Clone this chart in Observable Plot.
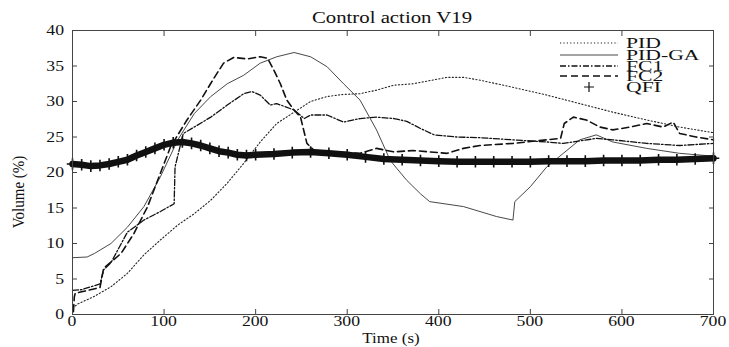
<!DOCTYPE html>
<html><head><meta charset="utf-8">
<script src="https://cdn.jsdelivr.net/npm/d3@7"></script>
<script src="https://cdn.jsdelivr.net/npm/@observablehq/plot@0.6"></script>
<style>
body{margin:0;background:#fff}
#c{position:relative;width:729px;height:347px}
#c svg{position:absolute;left:0;top:0}
</style>
</head><body><div id="c"></div>
<script>
// ---- data ----
const title = "Control action V19";
const xLabel = "Time (s)";
const yLabel = "Volume (%)";
const seriesNames = ["PID", "PID-GA", "FC1", "FC2", "QFI"];
const xTicks = [0, 100, 200, 300, 400, 500, 600, 700];
const yTicks = [0, 5, 10, 15, 20, 25, 30, 35, 40];

const pidT = [3, 6, 23, 42, 60, 78, 96, 115, 133, 151, 169, 187, 205, 223, 242, 260, 278, 296, 314, 332, 351, 372, 409, 427, 445, 481, 518, 554, 590, 627, 663, 700];
const pidV = [1.2, 1.5, 2.5, 3.9, 5.8, 8.4, 10.5, 12.6, 14.2, 16.1, 18.5, 21.3, 24.3, 26.9, 28.5, 30.0, 30.7, 31.0, 31.1, 31.6, 32.3, 32.5, 33.4, 33.4, 33.0, 32.0, 30.9, 29.7, 28.5, 27.4, 26.4, 25.6];

const gaT = [0, 16, 24, 42, 60, 78, 96, 115, 133, 151, 169, 187, 205, 223, 242, 260, 278, 296, 314, 332, 347, 354, 365, 380, 390, 427, 445, 463, 481, 483, 500, 518, 536, 554, 572, 590, 627, 663, 700];
const gaV = [8.0, 8.1, 8.6, 10.0, 12.3, 15.2, 19.4, 24.6, 28.3, 30.7, 32.5, 33.7, 35.4, 36.3, 36.9, 36.3, 34.9, 32.5, 30.2, 26.0, 21.7, 20.6, 18.9, 17.0, 15.9, 15.2, 14.5, 13.8, 13.3, 15.9, 18.0, 20.8, 22.7, 24.6, 25.3, 24.3, 23.4, 22.7, 22.3];

const fc1T = [0, 10, 30, 34, 42, 60, 78, 96, 111, 112, 121, 133, 151, 169, 187, 196, 205, 216, 223, 242, 253, 260, 278, 296, 314, 332, 351, 365, 380, 395, 420, 445, 481, 518, 536, 572, 590, 627, 663, 700];
const fc1V = [3.4, 3.5, 4.3, 6.3, 7.3, 11.6, 13.3, 14.5, 15.6, 20.8, 25.5, 26.4, 27.8, 29.5, 31.1, 31.4, 30.9, 29.5, 29.7, 28.8, 27.6, 28.1, 28.1, 27.1, 27.6, 27.8, 27.6, 27.2, 26.2, 25.3, 25.0, 24.9, 24.6, 24.3, 24.1, 24.8, 24.6, 24.1, 23.8, 24.1];

const fc2T = [1, 2, 3, 10, 30, 34, 53, 67, 82, 96, 107, 125, 140, 154, 165, 176, 191, 205, 213, 220, 227, 234, 242, 249, 256, 264, 278, 314, 332, 351, 372, 409, 427, 445, 481, 518, 533, 537, 547, 561, 576, 590, 609, 627, 645, 656, 663, 681, 700];
const fc2V = [0.4, 2.5, 3.0, 3.2, 3.8, 6.5, 8.6, 11.4, 15.2, 19.9, 23.6, 27.4, 30.2, 33.2, 35.4, 36.2, 36.0, 36.3, 36.1, 34.4, 32.5, 30.2, 28.8, 27.8, 24.1, 23.1, 22.9, 22.7, 23.4, 22.9, 23.1, 22.7, 23.4, 23.8, 24.1, 24.6, 24.8, 26.9, 27.8, 27.4, 26.4, 26.0, 26.4, 26.9, 26.4, 27.1, 25.5, 25.0, 24.6];

const qfiT = [0, 10, 20, 30, 40, 50, 60, 70, 80, 90, 100, 110, 120, 130, 140, 150, 160, 170, 180, 190, 200, 220, 240, 260, 280, 300, 320, 340, 360, 380, 400, 420, 440, 460, 480, 500, 520, 540, 560, 580, 600, 620, 640, 660, 680, 700];
const qfiV = [21.2, 21.1, 20.9, 21.0, 21.2, 21.5, 21.8, 22.4, 22.9, 23.4, 23.9, 24.2, 24.3, 24.1, 23.8, 23.4, 23.0, 22.8, 22.5, 22.4, 22.5, 22.6, 22.8, 22.9, 22.7, 22.5, 22.2, 21.9, 21.8, 21.7, 21.6, 21.5, 21.5, 21.5, 21.5, 21.5, 21.6, 21.6, 21.6, 21.7, 21.7, 21.7, 21.8, 21.8, 21.9, 22.0];

// ---- build tables ----
const rows = (t, v) => t.map((d, i) => ({t: d, v: v[i]}));
const pid = rows(pidT, pidV), ga = rows(gaT, gaV), fc1 = rows(fc1T, fc1V), fc2 = rows(fc2T, fc2V), qfi = rows(qfiT, qfiV);

const styles = {
  "PID":    {stroke: "#222", strokeWidth: 1.1, strokeDasharray: "1.2,2.2"},
  "PID-GA": {stroke: "#333", strokeWidth: 0.9},
  "FC1":    {stroke: "#111", strokeWidth: 1.3, strokeDasharray: "6,2,1.5,2"},
  "FC2":    {stroke: "#111", strokeWidth: 1.6, strokeDasharray: "7,4"},
  "QFI":    {stroke: "#111", strokeWidth: 6.5}
};
const FONT = "Liberation Serif, Times New Roman, serif";

const plot = Plot.plot({
  width: 729, height: 347,
  marginLeft: 72, marginRight: 16, marginTop: 30, marginBottom: 33,
  x: {domain: [0, 700]},
  y: {domain: [0, 40]},
  style: {fontFamily: FONT, fontSize: "15px", color: "#111", background: "#fff"},
  marks: [
    Plot.axisX(xTicks, {anchor: "bottom", tickSize: -5, tickFormat: () => "", label: null, stroke: "#444"}),
    Plot.axisX(xTicks, {anchor: "top", tickSize: -5, tickFormat: () => "", label: null, stroke: "#444"}),
    Plot.axisY(yTicks, {anchor: "left", tickSize: -5, tickFormat: () => "", label: null, stroke: "#444"}),
    Plot.axisY(yTicks, {anchor: "right", tickSize: -5, tickFormat: () => "", label: null, stroke: "#444"}),
    Plot.line(pid, {x: "t", y: "v", ...styles["PID"]}),
    Plot.line(ga, {x: "t", y: "v", ...styles["PID-GA"]}),
    Plot.line(fc1, {x: "t", y: "v", ...styles["FC1"]}),
    Plot.line(fc2, {x: "t", y: "v", ...styles["FC2"]}),
    Plot.line(qfi, {x: "t", y: "v", ...styles["QFI"]}),
    Plot.dot(qfi, {x: "t", y: "v", symbol: "plus", r: 3.8, stroke: "#111", strokeWidth: 1.6}),
    Plot.frame({stroke: "#444", strokeWidth: 1})
  ]
});
document.getElementById("c").appendChild(plot);
const sx = plot.scale("x"), sy = plot.scale("y");

// text overlay (tick labels placed with the plot's own scales)
const svg = d3.select("#c").append("svg").attr("width", 729).attr("height", 347)
  .style("pointer-events", "none").attr("font-family", FONT).attr("fill", "#111");
function label(txt, x, y, size, s, anchor = "middle", rot = false) {
  return svg.append("text").text(txt).attr("font-size", size).attr("text-anchor", anchor)
    .attr("transform", rot ? `translate(${x},${y}) rotate(-90) scale(1,${s})` : `translate(${x},${y}) scale(${s},1)`);
}
xTicks.forEach(v => label(String(v), sx.apply(v), 326, 15, 1.18));
yTicks.forEach(v => label(String(v), 64, sy.apply(v) + 5, 15, 1.18, "end"));
label(title, 392, 23, 16, 1.3);
label(xLabel, 391, 343, 15, 1.13);
label(yLabel, 24, 192, 15, 1.08, "middle", true);

const legY = [43, 55, 66, 76, 87];
seriesNames.forEach((name, i) => {
  const y = legY[i];
  const st = styles[name];
  if (name === "QFI") {
    svg.append("path").attr("d", `M${589 - 5},${y}h10M${589},${y - 5}v10`).attr("stroke", "#111").attr("stroke-width", 1.2);
  } else {
    svg.append("line").attr("x1", 560).attr("x2", 618).attr("y1", y).attr("y2", y)
      .attr("stroke", st.stroke).attr("stroke-width", st.strokeWidth)
      .attr("stroke-dasharray", st.strokeDasharray || null);
  }
  label(name, 626, y + 5, 15.5, 1.4, "start");
});
</script>
</body></html>
